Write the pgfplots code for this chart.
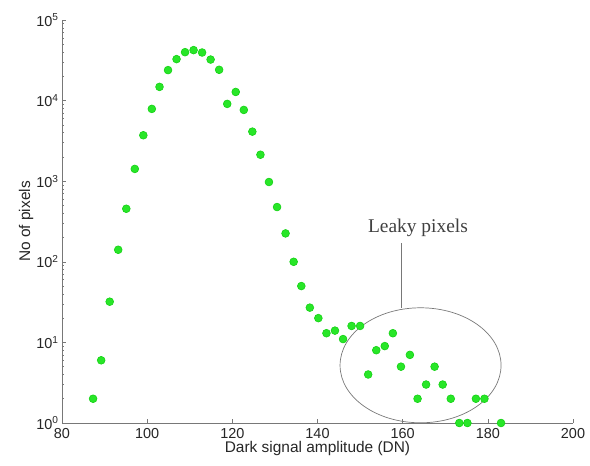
\documentclass[border=0pt]{standalone}
\usepackage{pgfplots}
\pgfplotsset{compat=1.18}
\usepackage{fontspec}
\setmainfont{Liberation Sans}
\newfontfamily\annotfont{Liberation Serif}
\definecolor{dotgreen}{RGB}{40,230,40}
\definecolor{dotedge}{RGB}{20,210,20}
\definecolor{axgray}{RGB}{120,120,120}

\pgfplotstableread{
x y
87.3 2
89.2 6
91.2 32
93.2 141
95.1 455
97.1 1420
99.1 3715
101.1 7890
102.9 14800
104.9 23900
106.9 32700
108.9 39900
110.9 42300
112.9 39500
114.9 32300
116.9 24100
118.8 9100
120.8 12800
122.7 7660
124.7 4120
126.6 2130
128.6 977
130.5 478
132.5 225
134.4 100
136.2 50
138.2 27
140.2 20
142.1 13
144.1 14
146.0 11
148.0 16
150.0 16
151.9 4
153.8 8
155.8 9
157.7 13
159.6 5
161.7 7
163.5 2
165.5 3
167.5 5
169.4 3
171.3 2
173.3 1
175.2 1
177.2 2
179.2 2
183.1 1
}\darkdata

\begin{document}
\begin{tikzpicture}
\begin{axis}[
    width=511bp, height=403bp,
    scale only axis,
    ymode=log,
    xmin=80, xmax=200,
    ymin=1, ymax=100000,
    axis lines*=left,
    axis line style={axgray, line width=0.8pt},
    every tick/.style={axgray, line width=0.5pt},
    tick align=inside,
    major tick length=4bp,
    minor tick length=2.5bp,
    xtick={80,100,...,200},
    ytick={1,10,100,1000,10000,100000},
    minor ytick={2,3,4,5,6,7,8,9,20,30,40,50,60,70,80,90,200,300,400,500,600,700,800,900,2000,3000,4000,5000,6000,7000,8000,9000,20000,30000,40000,50000,60000,70000,80000,90000},
    yticklabels={10\textsuperscript{0},10\textsuperscript{1},10\textsuperscript{2},10\textsuperscript{3},10\textsuperscript{4},10\textsuperscript{5}},
    /pgf/number format/assume math mode=true,
    tick label style={font=\fontsize{14.5}{17}\selectfont, black!85},
    xticklabel style={yshift=-1.5bp},
    xlabel={Dark signal amplitude (DN)},
    ylabel={No of pixels},
    label style={font=\fontsize{15.5}{18}\selectfont, black!85},
    xlabel style={yshift=4bp},
    ylabel style={yshift=-4bp},
    clip=false,
]
\addplot[only marks, mark=*, mark size=3.9bp,
    mark options={fill=dotgreen, draw=dotedge, line width=0.6pt}]
    table[x=x, y=y] {\darkdata};

\draw[axgray, line width=0.7pt] (axis cs:164.2,5.2) ellipse [x radius=80.5bp, y radius=57.5bp];
\draw[axgray, line width=0.7pt] (axis cs:159.8,26.8) -- (axis cs:159.8,171);
\node[anchor=base, inner sep=0pt, font=\annotfont\fontsize{19.5}{22}\selectfont, black!75]
    at (axis cs:163.6,232) {Leaky pixels};
\end{axis}
\pgfresetboundingbox
\path[use as bounding box] (-62bp,-43bp) rectangle (528bp,423bp);
\end{tikzpicture}
\end{document}
